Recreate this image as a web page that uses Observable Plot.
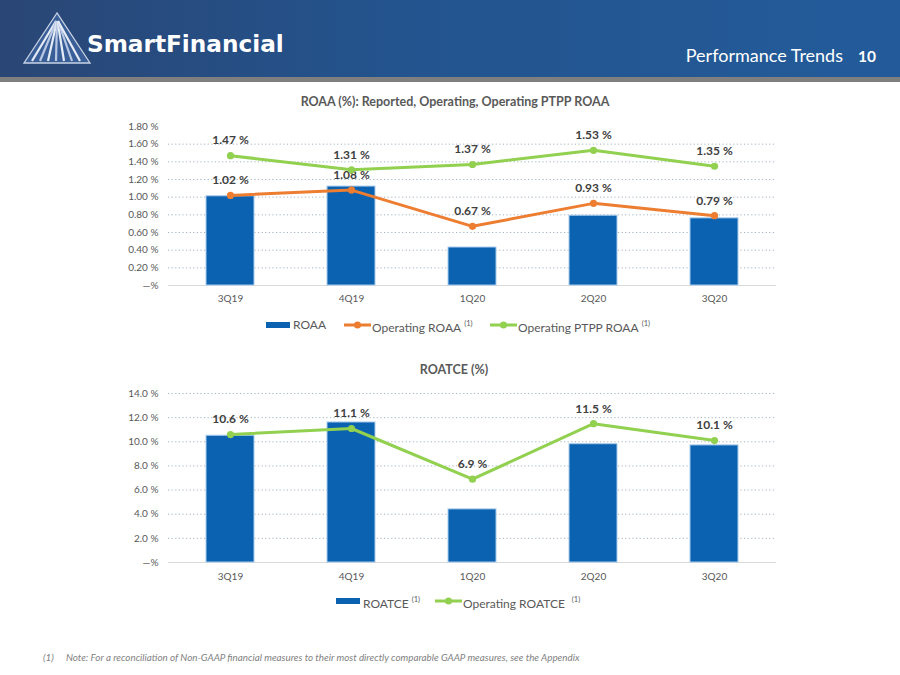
<!DOCTYPE html>
<html>
<head>
<meta charset="utf-8">
<script src="https://cdn.jsdelivr.net/npm/d3@7"></script>
<script src="https://cdn.jsdelivr.net/npm/@observablehq/plot@0.6"></script>
<style>
  html, body { margin:0; padding:0; background:#fff; }
  #page { position:relative; width:900px; height:675px; overflow:hidden; font-family: Lato, "Open Sans", sans-serif; }
  .abs { position:absolute; }
  .title { position:absolute; font-weight:bold; font-size:12.5px; color:#595959; white-space:nowrap; transform:translateX(-50%); }
  .leg { position:absolute; font-size:12px; color:#595959; white-space:nowrap; line-height:14px; }
  .leg sup { font-size:7.5px; position:relative; top:-1px; margin-left:3px; }
  .sw { position:absolute; }
  .foot { position:absolute; font-size:9.8px; font-style:italic; color:#7f7f7f; white-space:nowrap; }
</style>
</head>
<body>
<div id="page">
  <svg class="abs" style="left:0;top:0" width="900" height="84">
    <defs>
      <linearGradient id="hdr" x1="0" x2="1" y1="0" y2="0">
        <stop offset="0" stop-color="#2a4675"/>
        <stop offset="0.45" stop-color="#23548e"/>
        <stop offset="1" stop-color="#235b9a"/>
      </linearGradient>
    </defs>
    <rect x="0" y="0" width="900" height="78" fill="url(#hdr)"/>
    <rect x="0" y="77" width="900" height="5" fill="#7f7f7f"/>
    <g>
      <polygon points="57,13 24,63 90,63" fill="#3a5f98" stroke="#c9d3e3" stroke-width="1.3"/>
      <g stroke-width="2.2" stroke-linecap="butt">
        <line x1="56" y1="21" x2="32" y2="61" stroke="#e6ecf6"/>
        <line x1="56.5" y1="21" x2="40" y2="61" stroke="#b8c8e4"/>
        <line x1="57" y1="21" x2="48" y2="61" stroke="#e6ecf6"/>
        <line x1="57" y1="21" x2="56" y2="61" stroke="#b8c8e4"/>
        <line x1="57.5" y1="21" x2="64" y2="61" stroke="#e6ecf6"/>
        <line x1="58" y1="21" x2="72" y2="61" stroke="#b8c8e4"/>
        <line x1="58" y1="21" x2="80" y2="61" stroke="#e6ecf6"/>
      </g>
    </g>
    <text x="87" y="52" fill="#ffffff" font-family="DejaVu Sans" font-weight="bold" font-size="23.2">SmartFinancial</text>
    <text x="843" y="62" fill="#ffffff" font-family="Lato" font-size="18" text-anchor="end">Performance Trends</text>
    <text x="876" y="62" fill="#ffffff" font-family="Lato" font-weight="bold" font-size="15.5" text-anchor="end">10</text>
  </svg>

  <div class="title" style="left:455px;top:94px">ROAA (%): Reported, Operating, Operating PTPP ROAA</div>
  <div id="chart1" class="abs" style="left:0;top:110px"></div>

  <div id="legend1"></div>

  <div class="title" style="left:454px;top:362px">ROATCE (%)</div>
  <div id="chart2" class="abs" style="left:0;top:385px"></div>

  <div id="legend2"></div>

  <div class="foot" style="left:43px;top:651px">(1)</div>
  <div class="foot" style="left:66px;top:651px">Note: For a reconciliation of Non-GAAP financial measures to their most directly comparable GAAP measures, see the Appendix</div>
</div>

<script>
// ---- data ----
const quarters = ["3Q19", "4Q19", "1Q20", "2Q20", "3Q20"];
const roaa = [1.01, 1.12, 0.43, 0.79, 0.76];
const opRoaa = [1.02, 1.08, 0.67, 0.93, 0.79];
const ptppRoaa = [1.47, 1.31, 1.37, 1.53, 1.35];
const roaaTicks = [0, 0.2, 0.4, 0.6, 0.8, 1.0, 1.2, 1.4, 1.6, 1.8];
const roaaGrid = [0.2, 0.4, 0.6, 0.8, 1.0, 1.2, 1.4, 1.6];

const roatce = [10.5, 11.6, 4.4, 9.8, 9.7];
const opRoatce = [10.6, 11.1, 6.9, 11.5, 10.1];
const roatceTicks = [0, 2, 4, 6, 8, 10, 12, 14];
const roatceGrid = [2, 4, 6, 8, 10, 12, 14];

const legend1Labels = ["ROAA", "Operating ROAA", "Operating PTPP ROAA"];
const legend2Labels = ["ROATCE", "Operating ROATCE"];

// ---- styles ----
const BLUE = "#0a62b1", BLUE_EDGE = "#a9cbeb", ORANGE = "#ed7d31", GREEN = "#92d050";
const AXIS = "#595959", LABEL = "#404040", GRID = "#a3b3c3";

const rows = (vals) => quarters.map((q, i) => ({q, v: vals[i]}));

function chart({height, marginTop, marginBottom, domain, ticks, grid, tickFmt, labelFmt, bars, lines, xPad}) {
  const marks = [
    Plot.ruleY(grid, {stroke: GRID, strokeWidth: 1, strokeDasharray: "1.2,2.4"}),
    Plot.ruleY([0], {stroke: "#d9d9d9", strokeWidth: 1.2}),
    Plot.barY(rows(bars), {x: "q", y: "v", fill: BLUE, stroke: BLUE_EDGE, strokeWidth: 1}),
  ];
  for (const ln of lines) {
    const d = rows(ln.values);
    marks.push(Plot.line(d, {x: "q", y: "v", stroke: ln.color, strokeWidth: 3}));
    marks.push(Plot.dot(d, {x: "q", y: "v", fill: ln.color, r: 3.6, stroke: "none"}));
    marks.push(Plot.text(d, {x: "q", y: "v", text: d => labelFmt(d.v), dy: -15, fontSize: 12, fontWeight: "bold", fill: LABEL}));
  }
  marks.push(Plot.axisY({ticks, tickSize: 0, tickPadding: 10, tickFormat: tickFmt, fontSize: 10, color: AXIS, label: null}));
  marks.push(Plot.axisX({tickSize: 0, tickPadding: xPad, fontSize: 10, color: AXIS, label: null}));
  return Plot.plot({
    width: 900, height, marginTop, marginBottom, marginLeft: 168, marginRight: 124,
    style: {fontFamily: "Lato, sans-serif", background: "transparent", overflow: "visible"},
    x: {type: "band", domain: quarters, paddingInner: 0.6, paddingOuter: 0.3},
    y: {domain},
    marks
  });
}

document.getElementById("chart1").appendChild(chart({
  height: 200, marginTop: 16, marginBottom: 25, domain: [0, 1.8], ticks: roaaTicks, grid: roaaGrid,
  tickFmt: d => d === 0 ? "\u2014%" : d.toFixed(2) + " %",
  labelFmt: v => v.toFixed(2) + " %",
  bars: roaa,
  lines: [{values: opRoaa, color: ORANGE}, {values: ptppRoaa, color: GREEN}],
  xPad: 9
}));

document.getElementById("chart2").appendChild(chart({
  height: 200, marginTop: 8, marginBottom: 23, domain: [0, 14], ticks: roatceTicks, grid: roatceGrid,
  tickFmt: d => d === 0 ? "\u2014%" : d.toFixed(1) + " %",
  labelFmt: v => v.toFixed(1) + " %",
  bars: roatce,
  lines: [{values: opRoatce, color: GREEN}],
  xPad: 10
}));

// ---- legends ----
function rectSwatch(x, yc) {
  return `<svg class="sw" style="left:${x}px;top:${yc - 4}px" width="25" height="8"><rect x="0" y="1" width="24" height="6" fill="${BLUE}"/></svg>`;
}
function lineSwatch(x, yc, color) {
  return `<svg class="sw" style="left:${x}px;top:${yc - 5}px" width="28" height="10"><line x1="0" x2="27" y1="5" y2="5" stroke="${color}" stroke-width="3"/><circle cx="13.5" cy="5" r="3.5" fill="${color}"/></svg>`;
}
function text(x, yc, label, sup, supGap) {
  return `<div class="leg" style="left:${x}px;top:${yc - 7}px">${label}${sup ? `<sup style="margin-left:${supGap}px">(1)</sup>` : ""}</div>`;
}
document.getElementById("legend1").innerHTML =
  rectSwatch(266, 325) + text(293, 325, legend1Labels[0], false) +
  lineSwatch(344, 325, ORANGE) + text(372, 325, legend1Labels[1], true, 3) +
  lineSwatch(490, 325, GREEN) + text(518, 325, legend1Labels[2], true, 3);

document.getElementById("legend2").innerHTML =
  rectSwatch(336, 601) + text(363, 601, legend2Labels[0], true, 3) +
  lineSwatch(435, 601, GREEN) + text(463, 601, legend2Labels[1], true, 7);
</script>
</body>
</html>
